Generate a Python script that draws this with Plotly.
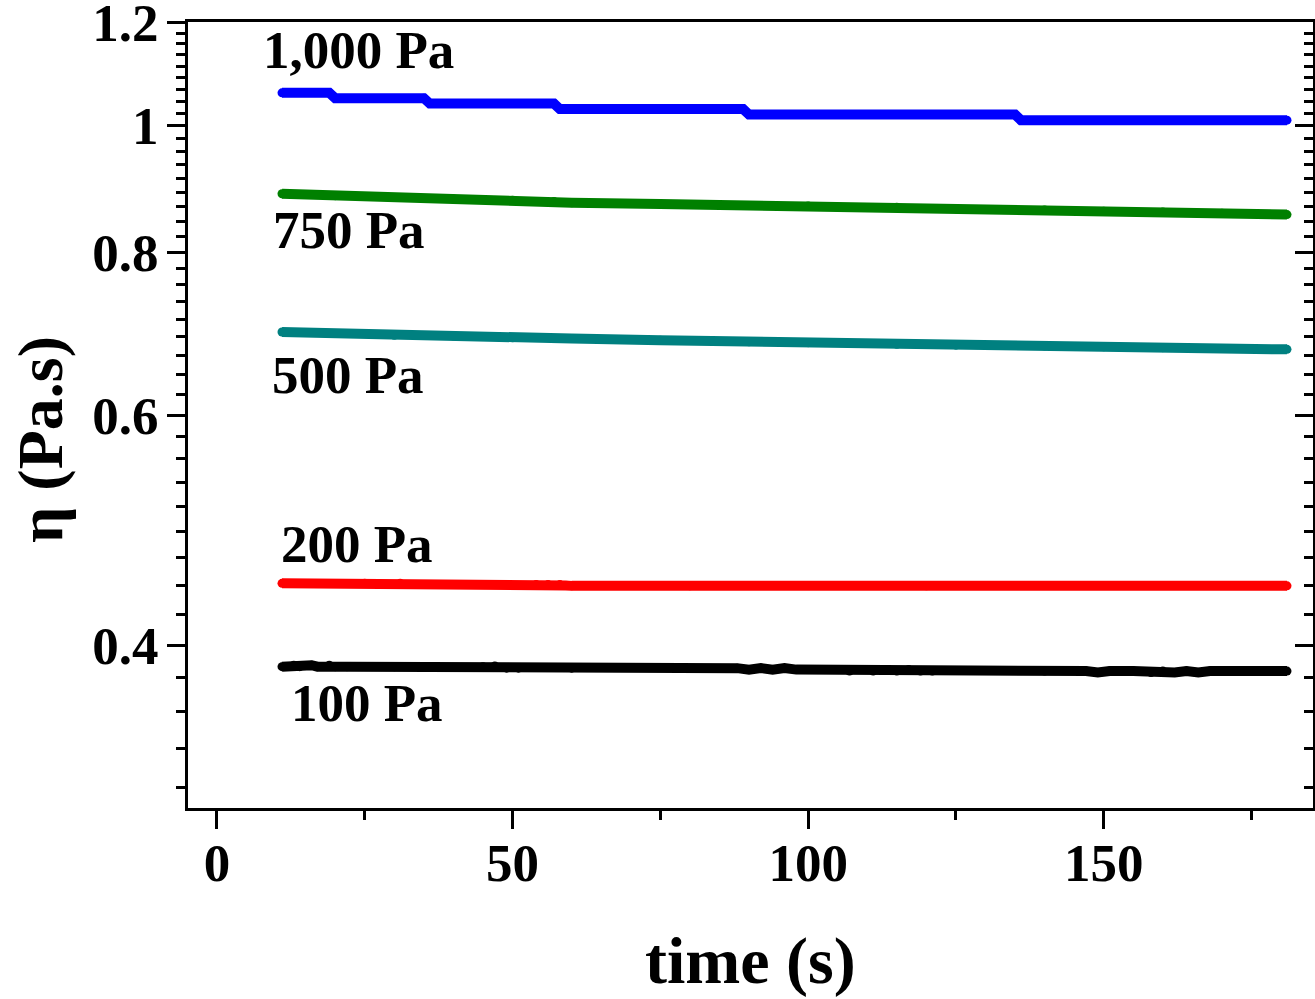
import numpy as np
import plotly.graph_objects as go

# ---- data ----
t_1000 = [11, 19, 20, 35, 36, 57, 58, 89, 90, 135, 136, 181]
eta_1000 = [1.06, 1.06, 1.05, 1.05, 1.04, 1.04, 1.03, 1.03, 1.02, 1.02, 1.01, 1.01]

t_750 = [11, 20, 30, 40, 50, 57, 60, 75, 90, 100, 115, 125, 140, 150, 160, 170, 181]
eta_750 = [0.887, 0.884, 0.881, 0.879, 0.877, 0.875, 0.873, 0.871, 0.869, 0.868, 0.866,
           0.864, 0.862, 0.860, 0.859, 0.857, 0.855]

t_500 = [11, 20, 30, 40, 50, 60, 75, 90, 100, 115, 125, 140, 150, 160, 170, 181]
eta_500 = [0.695, 0.693, 0.691, 0.690, 0.688, 0.687, 0.685, 0.683, 0.682, 0.680,
           0.679, 0.678, 0.677, 0.676, 0.675, 0.674]

t_200 = [11, 25, 31, 33, 54, 55, 56, 57, 58, 59, 60, 80, 120, 181]
eta_200 = [0.446, 0.446, 0.446, 0.445, 0.445, 0.4443, 0.445, 0.4443, 0.445, 0.4443,
           0.444, 0.444, 0.444, 0.444]

t_100 = [11, 13, 14, 16, 17, 19, 20, 22, 30, 45, 47, 49, 51, 60, 88, 90, 92, 94, 96, 98,
         100, 105, 107, 109, 111, 115, 117, 119, 121, 140, 147, 149, 151, 155, 158, 160,
         162, 164, 166, 168, 170, 175, 181]
eta_100 = [0.385, 0.386, 0.385, 0.386, 0.385, 0.386, 0.385, 0.385, 0.385, 0.385, 0.3855,
           0.384, 0.384, 0.384, 0.384, 0.383, 0.384, 0.383, 0.384, 0.383, 0.383, 0.383,
           0.382, 0.383, 0.382, 0.382, 0.383, 0.382, 0.382, 0.382, 0.382, 0.381, 0.382,
           0.382, 0.381, 0.382, 0.381, 0.382, 0.381, 0.382, 0.382, 0.382, 0.382]

labels = ["100 Pa", "200 Pa", "500 Pa", "750 Pa", "1,000 Pa"]
colors = ["#000000", "#ff0000", "#008080", "#008000", "#0000ff"]

y_major = [0.4, 0.6, 0.8, 1.0, 1.2]
y_major_text = ["0.4", "0.6", "0.8", "1", "1.2"]
x_major = [0, 50, 100, 150]
x_minor = [25, 75, 125, 175]

# minor ticks: 8 per 0.2 interval
y_minor = [round(0.4 + k * 0.2 / 9, 6) for k in range(-4, 37) if k % 9 != 0]

FONT = "Liberation Serif, Times New Roman, serif"
TICK_SIZE = 53

fig = go.Figure()
series = [(t_100, eta_100), (t_200, eta_200), (t_500, eta_500), (t_750, eta_750), (t_1000, eta_1000)]
for (t, e), c, lab in zip(series, colors, labels):
    fig.add_trace(go.Scatter(x=t, y=e, mode="lines+markers", name=lab,
                             line=dict(color=c, width=10),
                             marker=dict(color=c, size=9),
                             showlegend=False, hoverinfo="skip"))
fig.add_trace(go.Scatter(x=[None], y=[None], yaxis="y2", showlegend=False))

yr = [np.log10(0.3), np.log10(1.2) + 0.0004]

fig.update_layout(
    width=1315, height=999,
    margin=dict(l=188, r=2, t=22, b=191, autoexpand=False),
    paper_bgcolor="white", plot_bgcolor="white",
    font=dict(family=FONT, color="black", size=TICK_SIZE, weight="bold"),
    xaxis=dict(range=[-4.9, 185.4], tickmode="array", tickvals=x_major,
               ticks="outside", ticklen=18, tickwidth=3, tickcolor="black",
               showline=True, linewidth=3, linecolor="black", mirror=True,
               showgrid=False, zeroline=False, ticklabelstandoff=-12, automargin=False,
               tickfont=dict(family=FONT, size=TICK_SIZE, weight="bold"),
               minor=dict(tickmode="array", tickvals=x_minor, ticks="outside",
                          ticklen=9, tickwidth=3, tickcolor="black", showgrid=False)),
    yaxis=dict(type="log", range=yr, tickmode="array", tickvals=y_major,
               ticktext=y_major_text, ticklabeloverflow="allow", automargin=False,
               ticks="outside", ticklen=18, tickwidth=3, tickcolor="black",
               showline=True, linewidth=3, linecolor="black", mirror=True,
               showgrid=False, zeroline=False, ticklabelstandoff=-2,
               tickfont=dict(family=FONT, size=TICK_SIZE, weight="bold"),
               minor=dict(tickmode="array", tickvals=y_minor, ticks="outside",
                          ticklen=9, tickwidth=3, tickcolor="black", showgrid=False)),
    yaxis2=dict(type="log", range=yr, overlaying="y", side="right",
                tickmode="array", tickvals=y_major, showticklabels=False, automargin=False,
                ticks="inside", ticklen=18, tickwidth=3, tickcolor="black",
                showline=True, linewidth=3, linecolor="black",
                showgrid=False, zeroline=False,
                minor=dict(tickmode="array", tickvals=y_minor, ticks="inside",
                           ticklen=9, tickwidth=3, tickcolor="black", showgrid=False)),
)

# series labels
label_pos = [(25.4, 0.361), (23.7, 0.478), (22.2, 0.644), (22.3, 0.832), (24.0, 1.144)]
for lab, (lx, ly) in zip(labels, label_pos):
    fig.add_annotation(x=lx, y=np.log10(ly), xref="x", yref="y", text=lab,
                       showarrow=False, xanchor="center", yanchor="middle",
                       font=dict(family=FONT, size=TICK_SIZE, color="black", weight="bold"))

# axis titles
fig.add_annotation(x=0.5, y=(808 - 961) / 786, xref="paper", yref="paper",
                   text="time (s)", showarrow=False, xanchor="center", yanchor="middle",
                   font=dict(family=FONT, size=66, color="black", weight="bold"))
fig.add_annotation(x=(40 - 188) / 1125, y=(808 - 440) / 786, xref="paper", yref="paper",
                   text="η (Pa.s)", showarrow=False, textangle=-90,
                   xanchor="center", yanchor="middle",
                   font=dict(family=FONT, size=64, color="black", weight="bold"))

fig.write_html("out.html")
